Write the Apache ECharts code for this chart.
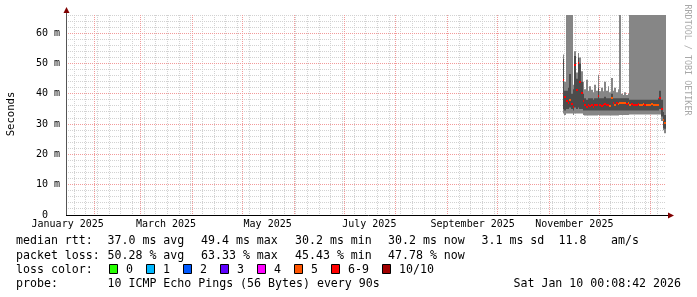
<!DOCTYPE html>
<html><head><meta charset="utf-8">
<script src="https://cdn.jsdelivr.net/npm/echarts@6/dist/echarts.min.js"></script>
<style>html,body{margin:0;padding:0;background:#fff}#c{width:697px;height:297px}</style>
</head><body><div id="c"></div>
<script>
// ---- time range (360 days ending at the probe time) ----
const rangeStart = '2025-01-15T00:08:42Z';
const rangeEnd   = '2026-01-10T00:08:42Z';
const yMaxMs = 66;

// ---- daily samples, first one on this date ----
const firstDay = '2025-11-09';
// values in milliseconds
const rttMin = [
  33.5,33.0,33.5,33.5,33.5,33.5,33.0,33.5,33.5,33.5,
  33.5,33.5,33.0,32.8,32.8,32.8,32.8,32.8,32.8,32.8,
  32.8,33.0,32.8,32.8,32.8,32.8,32.8,32.8,32.8,32.8,
  32.8,32.8,32.8,32.8,33.0,33.0,33.0,33.0,33.0,33.0,
  33.2,33.2,33.2,33.2,33.2,33.2,33.2,33.2,33.2,33.2,
  33.2,33.2,33.2,33.2,33.2,33.2,33.2,33.2,33.2,31.0,28.0,27.0];
const rttLow = [
  35.0,34.5,35.0,35.0,35.5,35.0,34.5,35.5,35.0,35.5,
  35.0,35.0,34.5,34.5,34.5,34.5,34.5,34.5,34.5,34.5,
  34.5,34.5,34.5,34.5,34.5,34.5,34.5,34.5,34.5,34.5,
  34.5,34.5,34.5,34.5,34.5,34.5,34.5,34.5,34.5,34.5,
  34.5,34.5,34.5,34.5,34.5,34.5,34.5,34.5,34.5,34.5,
  34.5,34.5,34.5,34.5,34.5,34.5,34.5,34.5,35.0,32.5,28.6,28.5];
const rttMedian = [
  44.6,38.9,37.5,37.0,38.0,36.5,35.8,49.5,41.3,50.0,
  44.0,40.2,37.5,36.4,35.8,36.4,36.0,36.4,35.8,36.2,
  36.4,39.3,36.4,36.0,36.4,36.6,36.2,36.4,36.0,38.5,
  36.8,36.4,37.0,36.6,36.8,37.0,36.8,37.0,36.6,36.8,
  36.4,36.6,36.4,36.2,36.4,36.6,36.4,36.2,36.6,36.4,
  36.4,36.2,36.4,36.6,36.4,36.2,36.4,36.4,38.5,35.0,31.5,30.2];
const rttHigh = [
  51.5,41.0,41.0,42.0,46.5,40.0,41.5,52.5,45.0,52.0,
  50.0,44.0,40.0,38.5,38.0,38.5,38.5,38.5,38.0,38.5,
  38.5,42.0,38.5,38.5,38.5,39.0,38.5,38.5,38.5,40.0,
  38.5,38.5,38.5,38.5,38.5,38.5,38.5,38.5,38.5,38.5,
  38.0,38.0,38.0,38.0,38.0,38.0,38.0,38.0,38.0,38.0,
  38.0,38.0,38.0,38.0,38.0,38.0,38.0,38.5,41.0,38.0,34.0,33.0];
// 99 = above the top of the chart
const rttMax = [
  53.0,44.0,99,99,99,99,43.0,54.0,47.0,53.5,
  52.0,47.4,44.0,41.5,44.6,41.0,42.5,41.3,40.5,43.0,
  41.0,46.3,40.8,42.0,40.8,44.0,41.0,42.5,40.5,45.2,
  41.0,42.0,40.5,41.5,99,40.0,39.6,40.5,39.6,40.0,
  99,99,99,99,99,99,99,99,99,99,
  99,99,99,99,99,99,99,99,99,99,99,99];
const lossPct = [
  60,60,60,60,50,60,60,60,60,60,
  60,60,60,60,60,60,60,60,60,60,
  60,60,60,60,60,60,55,60,50,50,
  60,50,60,50,50,50,50,50,60,50,
  50,60,60,60,60,60,50,50,50,60,
  50,50,50,50,50,50,50,50,60,60,50,50];

// ---- axis / grid positions ----
const monthLines = ['2025-02-01','2025-03-01','2025-04-01','2025-05-01','2025-06-01','2025-07-01',
  '2025-08-01','2025-09-01','2025-10-01','2025-11-01','2025-12-01','2026-01-01'];
const firstMonday = '2025-01-20';
const monthLabelDates = ['2025-01-16','2025-03-16','2025-05-16','2025-07-16','2025-09-16','2025-11-16'];
const monthLabelTexts = ['January 2025','March 2025','May 2025','July 2025','September 2025','November 2025'];
const yMajor = [10,20,30,40,50,60];
const yMinorStep = 2;

// ---- legend texts ----
const legendRows = [
  ['median rtt:', '37.0 ms avg', '49.4 ms max', '30.2 ms min', '30.2 ms now', '3.1 ms sd', '11.8', 'am/s'],
  ['packet loss:', '50.28 % avg', '63.33 % max', '45.43 % min', '47.78 % now']
];
const lossLabels = ['0','1','2','3','4','5','6-9','10/10'];
const lossColors = ['#26ff00','#00b8ff','#0059ff','#5e00ff','#ff00ff','#ff5500','#ff0000','#a10000'];
const probeText = '10 ICMP Echo Pings (56 Bytes) every 90s';
const dateText = 'Sat Jan 10 00:08:42 2026';

const DAY = 86400000;
const ts = s => Date.parse(s.length > 10 ? s : s + 'T00:00:00Z');
const t0 = ts(firstDay);
const samples = rttMedian.map((m, i) => [t0 + i * DAY, rttMin[i], rttLow[i], m, rttHigh[i], rttMax[i], lossPct[i]]);
const weekLines = [];
for (let t = ts(firstMonday); t < ts(rangeEnd); t += 7 * DAY) weekLines.push([t, 0]);
const yMinor = [];
for (let v = yMinorStep; v <= yMaxMs; v += yMinorStep) if (v % 10) yMinor.push([ts(rangeStart), v]);
const labelTs = monthLabelDates.map(ts);

function lossColor(p) {
  const n = Math.round(p / 10);
  if (n <= 5) return lossColors[n];
  if (n < 10) return lossColors[6];
  return lossColors[7];
}

const GRID = { left: 66, top: 15, width: 600, height: 200 };
const MONO = 'DejaVu Sans Mono';

function vLine(color) {
  return function (params, api) {
    const cs = params.coordSys;
    const x = Math.floor(api.coord([api.value(0), 0])[0]) + 0.5;
    return { type: 'line', shape: { x1: x, y1: cs.y, x2: x, y2: cs.y + cs.height },
      style: { stroke: color, lineWidth: 1, lineDash: [1, 1] } };
  };
}
function hLine(color) {
  return function (params, api) {
    const cs = params.coordSys;
    const y = Math.floor(api.coord([api.value(0), api.value(1)])[1]) + 0.5;
    return { type: 'line', shape: { x1: cs.x, y1: y, x2: cs.x + cs.width, y2: y },
      style: { stroke: color, lineWidth: 1, lineDash: [1, 1] } };
  };
}
const GRAY = '#d2d2d2', RED = '#f29a9a';

const graphic = [];
const rowY = [241, 255.5, 269.5, 283.5];
const colX = [16, 107.5, 201, 295, 388, 481.5, 558.5, 611];
legendRows.forEach((row, r) => row.forEach((txt, c) => graphic.push({
  type: 'text', x: colX[c], y: rowY[r], silent: true,
  style: { text: txt, font: '11.6px ' + MONO, fill: '#000', verticalAlign: 'middle' }
})));
graphic.push({ type: 'text', x: 16, y: rowY[2], silent: true,
  style: { text: 'loss color:', font: '11.6px ' + MONO, fill: '#000', verticalAlign: 'middle' } });
let bx = 109;
lossLabels.forEach((lab, i) => {
  graphic.push({ type: 'rect', silent: true, shape: { x: bx + 0.5, y: 264.5, width: 8, height: 9 },
    style: { fill: lossColors[i], stroke: '#000', lineWidth: 1 } });
  graphic.push({ type: 'text', x: bx + 17, y: rowY[2], silent: true,
    style: { text: lab, font: '11.6px ' + MONO, fill: '#000', verticalAlign: 'middle' } });
  bx += 37 + (lab.length - 1) * 7;
});
graphic.push({ type: 'text', x: 16, y: rowY[3], silent: true,
  style: { text: 'probe:', font: '11.6px ' + MONO, fill: '#000', verticalAlign: 'middle' } });
graphic.push({ type: 'text', x: 107.5, y: rowY[3], silent: true,
  style: { text: probeText, font: '11.6px ' + MONO, fill: '#000', verticalAlign: 'middle' } });
graphic.push({ type: 'text', x: 681, y: rowY[3], silent: true,
  style: { text: dateText, font: '11.6px ' + MONO, fill: '#000', verticalAlign: 'middle', align: 'right' } });
graphic.push({ type: 'text', x: 11, y: 114, rotation: Math.PI / 2, silent: true,
  style: { text: 'Seconds', font: '10.6px ' + MONO, fill: '#000', align: 'center', verticalAlign: 'middle' } });
graphic.push({ type: 'text', x: 687.5, y: 60, rotation: -Math.PI / 2, silent: true,
  style: { text: 'RRDTOOL / TOBI OETIKER', font: '8.4px ' + MONO, fill: '#a8a8a8', align: 'center', verticalAlign: 'middle' } });
const axL = GRID.left + 0.5, axB = GRID.top + GRID.height + 0.5;
graphic.push({ type: 'line', silent: true, z: 50, shape: { x1: axL, y1: axB, x2: axL, y2: GRID.top - 5 }, style: { stroke: '#555', lineWidth: 1 } });
graphic.push({ type: 'line', silent: true, z: 50, shape: { x1: GRID.left, y1: axB, x2: GRID.left + GRID.width + 5, y2: axB }, style: { stroke: '#000', lineWidth: 1 } });
graphic.push({ type: 'polygon', silent: true, z: 51, shape: { points: [[axL - 3, GRID.top - 2], [axL + 3, GRID.top - 2], [axL, GRID.top - 8]] }, style: { fill: '#800000' } });
graphic.push({ type: 'polygon', silent: true, z: 51, shape: { points: [[GRID.left + GRID.width + 2, axB - 3], [GRID.left + GRID.width + 2, axB + 3], [GRID.left + GRID.width + 8, axB]] }, style: { fill: '#800000' } });

const chart = echarts.init(document.getElementById('c'), null, { renderer: 'canvas' });
chart.setOption({
  animation: false,
  backgroundColor: '#fff',
  grid: GRID,
  xAxis: {
    type: 'value', min: ts(rangeStart), max: ts(rangeEnd),
    axisLine: { show: false }, axisTick: { show: false }, splitLine: { show: false },
    axisLabel: {
      customValues: labelTs,
      formatter: (v) => { const i = labelTs.indexOf(v); return i >= 0 ? monthLabelTexts[i] : ''; },
      fontFamily: MONO, fontSize: 10, color: '#000', margin: 4, hideOverlap: false
    }
  },
  yAxis: {
    type: 'value', min: 0, max: yMaxMs, interval: 10,
    axisLine: { show: false }, axisTick: { show: false }, splitLine: { show: false },
    axisLabel: {
      showMaxLabel: false, fontFamily: MONO, fontSize: 10, color: '#000', margin: 6,
      formatter: (v) => v === 0 ? '0  ' : (v % 10 ? '' : v + ' m')
    }
  },
  graphic: graphic,
  series: [
    { type: 'custom', silent: true, z: 1, data: weekLines, renderItem: vLine(GRAY), encode: { x: 0, y: 1 } },
    { type: 'custom', silent: true, z: 1, data: yMinor, renderItem: hLine(GRAY), encode: { x: 0, y: 1 } },
    { type: 'custom', silent: true, z: 2, data: monthLines.map(d => [ts(d), 0]), renderItem: vLine(RED), encode: { x: 0, y: 1 } },
    { type: 'custom', silent: true, z: 2, data: yMajor.map(v => [ts(rangeStart), v]), renderItem: hLine(RED), encode: { x: 0, y: 1 } },
    {
      type: 'custom', silent: true, z: 5, data: samples, encode: { x: 0, y: 3 },
      renderItem: function (params, api) {
        const cs = params.coordSys;
        const t = api.value(0);
        const xa = Math.round(api.coord([t, 0])[0]);
        const xb = Math.round(api.coord([t + DAY, 0])[0]);
        const w = Math.max(1, xb - xa);
        const yOf = v => Math.max(cs.y, api.coord([t, Math.min(v, yMaxMs)])[1]);
        const yMin = yOf(api.value(1)), yLow = yOf(api.value(2)), yMed = yOf(api.value(3)),
              yHigh = yOf(api.value(4)), yMax = yOf(api.value(5));
        return { type: 'group', children: [
          { type: 'rect', shape: { x: xa, y: yMax, width: w, height: yMin - yMax }, style: { fill: '#868686' } },
          { type: 'rect', shape: { x: xa, y: yHigh, width: w, height: yLow - yHigh }, style: { fill: '#4c4c4c' } },
          { type: 'rect', shape: { x: xa, y: Math.round(yMed) - 1, width: w, height: 2 }, style: { fill: lossColor(api.value(6)) } }
        ] };
      }
    }
  ]
});
</script>
</body></html>
